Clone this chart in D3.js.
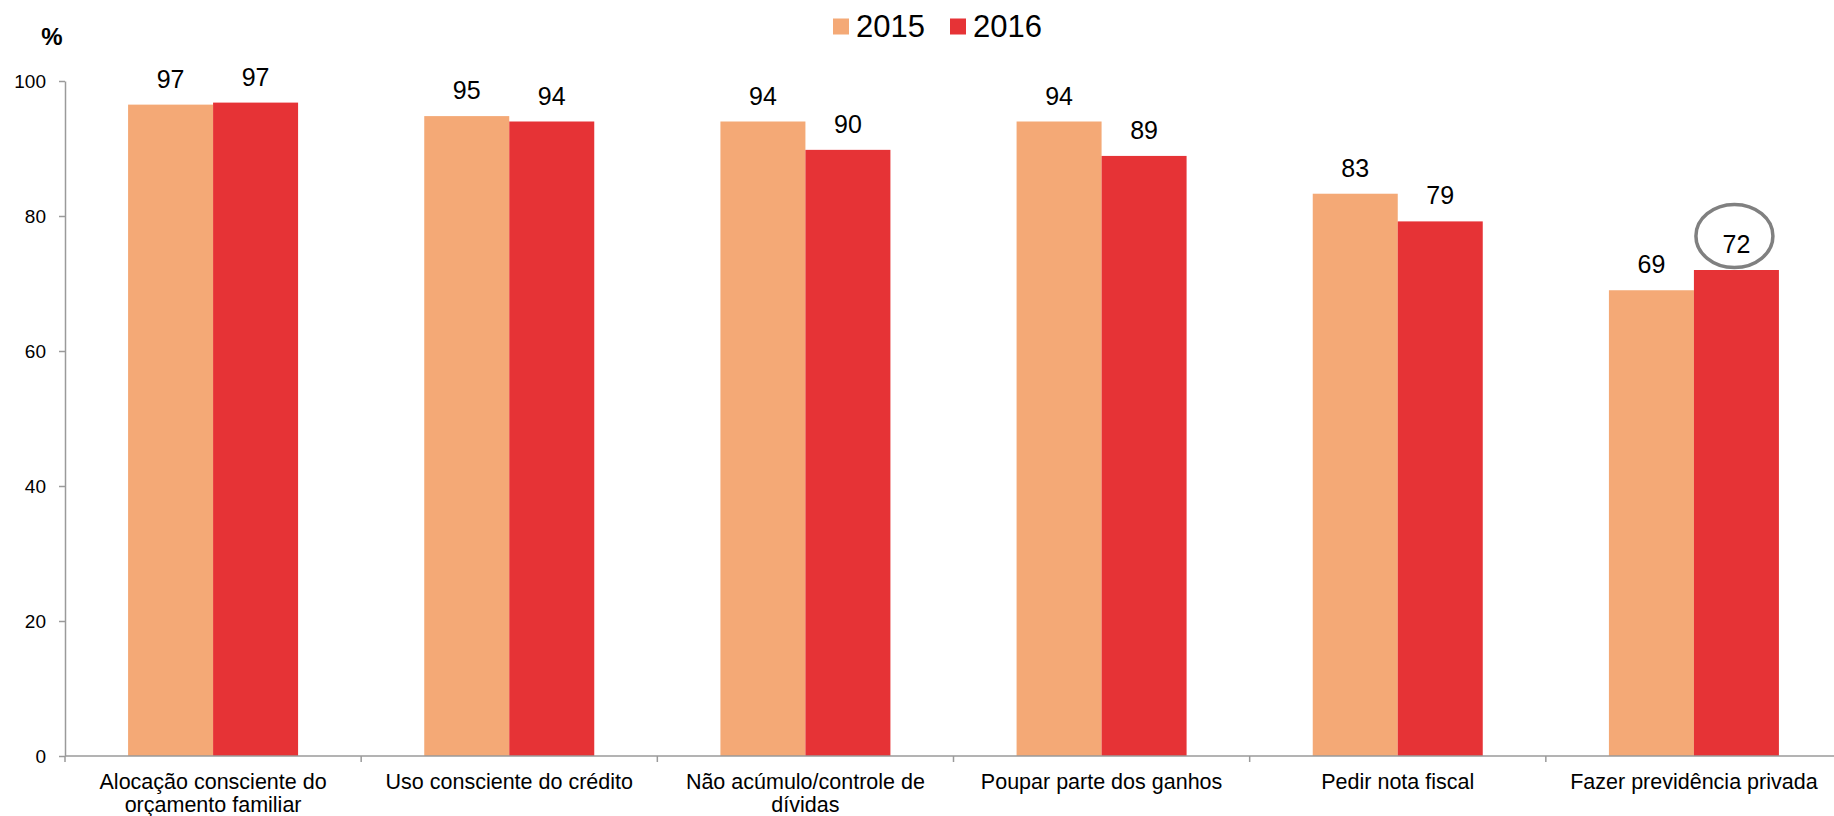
<!DOCTYPE html>
<html>
<head>
<meta charset="utf-8">
<script src="https://cdn.jsdelivr.net/npm/d3@7/dist/d3.min.js"></script>
<style>
  html, body { margin: 0; padding: 0; background: #fff; }
  svg { display: block; }
  text { font-family: "Liberation Sans", Arial, sans-serif; fill: #000; }
</style>
</head>
<body>
<svg id="chart" width="1834" height="816"></svg>
<script>
// ---- data ----
const categories = [
  "Alocação consciente do\norçamento familiar",
  "Uso consciente do crédito",
  "Não acúmulo/controle de\ndívidas",
  "Poupar parte dos ganhos",
  "Pedir nota fiscal",
  "Fazer previdência privada"
];
const seriesNames = ["2015", "2016"];
const values2015 = [96.5, 94.8, 94.0, 94.0, 83.3, 69.0];
const values2016 = [96.8, 94.0, 89.8, 88.9, 79.2, 72.0];
const labels2015 = ["97", "95", "94", "94", "83", "69"];
const labels2016 = ["97", "94", "90", "89", "79", "72"];
const yTicks = [0, 20, 40, 60, 80, 100];
const highlighted = { series: "2016", index: 5 };

const colors = { "2015": "#F4A976", "2016": "#E63336" };
const axisColor = "#9a9a9a";

const rows = categories.map((c, i) => ({
  cat: c,
  vals: [
    { s: "2015", v: values2015[i], label: labels2015[i], i },
    { s: "2016", v: values2016[i], label: labels2016[i], i }
  ]
}));

const svg = d3.select("#chart");
const mLeft = 65, mRight = 1842, mTop = 81, mBottom = 756;

const x = d3.scaleBand().domain(categories).range([mLeft, mRight]).padding(0);
const step = x.bandwidth();
const xs = d3.scaleBand().domain(seriesNames).range([step * 0.213, step * 0.787]).padding(0);
const y = d3.scaleLinear().domain([0, 100]).range([mBottom, mTop]);

// bars
const g = svg.append("g");
const groups = g.selectAll("g.cat").data(rows).join("g")
  .attr("transform", d => `translate(${x(d.cat)},0)`);

groups.selectAll("rect").data(d => d.vals).join("rect")
  .attr("x", d => xs(d.s))
  .attr("y", d => y(d.v))
  .attr("width", xs.bandwidth())
  .attr("height", d => y(0) - y(d.v))
  .attr("fill", d => colors[d.s]);

groups.selectAll("text.val").data(d => d.vals).join("text")
  .attr("class", "val")
  .attr("x", d => xs(d.s) + xs.bandwidth() / 2)
  .attr("y", d => y(d.v) - 17)
  .attr("text-anchor", "middle")
  .style("font-size", "25px")
  .text(d => d.label);

// highlight ellipse
{
  const hi = highlighted.index;
  const hv = highlighted.series === "2016" ? values2016[hi] : values2015[hi];
  svg.append("ellipse")
    .attr("cx", x(categories[hi]) + xs(highlighted.series) + xs.bandwidth() / 2 - 2)
    .attr("cy", y(hv) - 34)
    .attr("rx", 38.5)
    .attr("ry", 31.5)
    .attr("fill", "none")
    .attr("stroke", "#808080")
    .attr("stroke-width", 3.5);
}

// y axis
const yAxis = svg.append("g")
  .attr("transform", `translate(${mLeft},0)`)
  .call(d3.axisLeft(y).tickValues(yTicks).tickSize(6).tickSizeOuter(0).tickPadding(13).tickFormat(d3.format("d")));
yAxis.select(".domain").attr("stroke", axisColor).attr("stroke-width", 1.5);
yAxis.selectAll(".tick line").attr("stroke", axisColor).attr("stroke-width", 1.5);
yAxis.selectAll(".tick text").style("font-size", "19px").attr("fill", "#000")
  .style("font-family", '"Liberation Sans", Arial, sans-serif');

// x axis line + boundary ticks
svg.append("line")
  .attr("x1", mLeft).attr("x2", 1834)
  .attr("y1", y(0)).attr("y2", y(0))
  .attr("stroke", axisColor).attr("stroke-width", 1.5);
const bounds = categories.map(c => x(c));
svg.selectAll("line.xt").data(bounds).join("line")
  .attr("class", "xt")
  .attr("x1", d => d).attr("x2", d => d)
  .attr("y1", y(0)).attr("y2", y(0) + 6)
  .attr("stroke", axisColor).attr("stroke-width", 1.5);

// category labels
const catLabels = svg.selectAll("text.cat").data(categories).join("text")
  .attr("class", "cat")
  .attr("x", d => x(d) + step / 2)
  .attr("y", 789)
  .attr("text-anchor", "middle")
  .style("font-size", "21.5px");
catLabels.each(function(d) {
  const lines = d.split("\n");
  d3.select(this).selectAll("tspan").data(lines).join("tspan")
    .attr("x", x(d) + step / 2)
    .attr("dy", (l, i) => i === 0 ? 0 : 22.5)
    .text(l => l);
});

// "%" unit label
svg.append("text")
  .attr("x", 52).attr("y", 45)
  .attr("text-anchor", "middle")
  .style("font-size", "24px").style("font-weight", "bold")
  .text("%");

// legend
const legendX = [833, 950];
const legend = svg.selectAll("g.leg").data(seriesNames).join("g")
  .attr("class", "leg")
  .attr("transform", (d, i) => `translate(${legendX[i]},0)`);
legend.append("rect")
  .attr("x", 0).attr("y", 18.5).attr("width", 16).attr("height", 16)
  .attr("fill", d => colors[d]);
legend.append("text")
  .attr("x", 23).attr("y", 36.7)
  .style("font-size", "31px")
  .text(d => d);
</script>
</body>
</html>
